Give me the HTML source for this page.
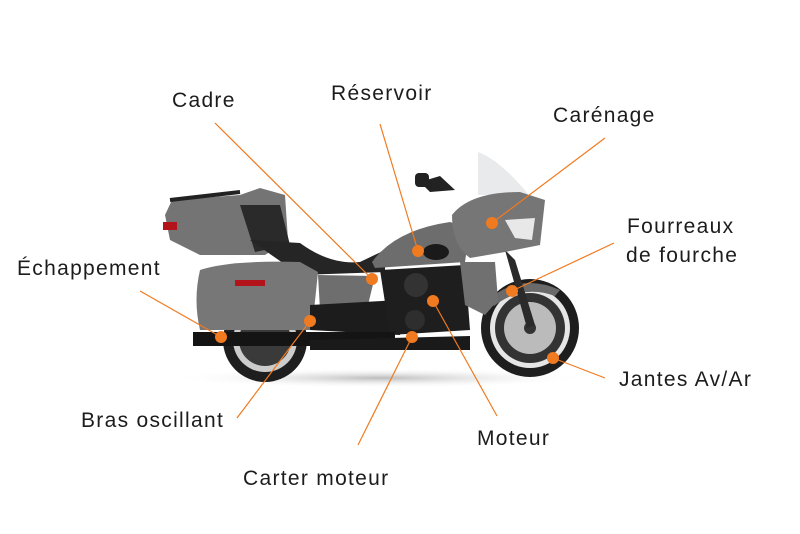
<!DOCTYPE html>
<html><head><meta charset="utf-8"><style>
html,body{margin:0;padding:0;background:#fff;}
svg{display:block}
text{font-family:"Liberation Sans","DejaVu Sans",sans-serif;font-size:21px;letter-spacing:1.3px;fill:#1c1c1c}
</style></head><body>
<svg width="800" height="534" viewBox="0 0 800 534" xmlns="http://www.w3.org/2000/svg">
<defs>
<radialGradient id="sh" cx="0.5" cy="0.5" r="0.5"><stop offset="0" stop-color="#bbb"/><stop offset="1" stop-color="#fff" stop-opacity="0"/></radialGradient>
</defs>
<ellipse cx="380" cy="378" rx="210" ry="10" fill="url(#sh)"/>
<!-- wheels -->
<circle cx="265" cy="340" r="42" fill="#1e1e1e"/>
<circle cx="265" cy="340" r="32" fill="#ccc"/>
<circle cx="265" cy="340" r="26" fill="#3a3a3a"/>
<circle cx="530" cy="328" r="49" fill="#1e1e1e"/>
<circle cx="530" cy="328" r="40" fill="#e6e6e6"/>
<circle cx="530" cy="328" r="35" fill="#333"/>
<circle cx="530" cy="328" r="26" fill="#bbb"/>
<circle cx="530" cy="328" r="6" fill="#333"/>
<!-- front fender -->
<path d="M488 300 Q520 272 560 290 L555 296 Q522 284 494 306Z" fill="#6a6a6a"/>
<!-- fork -->
<path d="M505 250 L515 260 L535 325 L527 328Z" fill="#2a2a2a"/>
<!-- windshield -->
<path d="M478 152 Q500 160 528 194 L478 195Z" fill="#e8eaec"/>
<!-- handlebar/mirror -->
<path d="M420 182 L440 176 L455 190 L430 192 Z" fill="#222"/>
<rect x="415" y="173" width="14" height="14" rx="4" fill="#222"/>
<!-- top case -->
<path d="M165 215 L172 200 L240 195 L260 188 L285 195 L288 240 L265 255 L200 255 L170 240Z" fill="#747474"/>
<path d="M170 200 L240 192" stroke="#222" stroke-width="4"/>
<path d="M240 205 L280 205 L290 245 L255 252Z" fill="#2a2a2a"/>
<rect x="163" y="222" width="14" height="8" fill="#b3131a"/>
<!-- seat -->
<path d="M250 240 L300 243 Q330 265 360 262 L385 250 L385 272 L300 275 Z" fill="#252525"/>
<!-- saddlebag -->
<path d="M200 270 Q230 260 300 262 L318 272 L312 330 L200 330 Q193 300 200 270Z" fill="#777"/>
<rect x="235" y="280" width="30" height="6" fill="#b3131a"/>
<!-- side cover / frame -->
<path d="M318 275 L375 276 L368 305 L320 310Z" fill="#6e6e6e"/>
<path d="M310 305 L400 300 L400 335 L310 330Z" fill="#1c1c1c"/>
<!-- tank -->
<path d="M372 262 Q395 230 450 222 L470 228 L465 262 L375 268Z" fill="#6d6d6d"/>
<ellipse cx="436" cy="252" rx="13" ry="8" fill="#1a1a1a"/>
<!-- engine -->
<path d="M380 270 L465 265 L470 330 L390 335Z" fill="#1e1e1e"/>
<circle cx="416" cy="285" r="12" fill="#333"/>
<circle cx="415" cy="320" r="10" fill="#2e2e2e"/>
<!-- lower fairing -->
<path d="M460 262 L495 262 L498 300 L485 315 L465 305Z" fill="#707070"/>
<!-- fairing -->
<path d="M452 215 Q470 192 520 192 L545 200 L540 245 L505 252 L470 258 Q452 245 452 215Z" fill="#767676"/>
<path d="M505 220 L535 218 L532 240 L515 238Z" fill="#e8e8e8"/>
<!-- exhaust -->
<path d="M193 332 L395 332 L395 346 L193 346Z" fill="#141414"/>
<path d="M310 340 L470 336 L470 350 L310 350Z" fill="#1a1a1a"/>
<!-- lines -->
<g stroke="#f07a20" stroke-width="1.2" fill="none">
<line x1="215" y1="123" x2="372" y2="279"/>
<line x1="380" y1="124" x2="418" y2="251"/>
<line x1="605" y1="138" x2="492" y2="223"/>
<line x1="614" y1="243" x2="512" y2="291"/>
<line x1="605" y1="378" x2="553" y2="358"/>
<line x1="497" y1="416" x2="433" y2="301"/>
<line x1="358" y1="445" x2="412" y2="337"/>
<line x1="237" y1="418" x2="310" y2="321"/>
<line x1="140" y1="291" x2="221" y2="337"/>
</g>
<g fill="#f07a20">
<circle cx="372" cy="279" r="6"/><circle cx="418" cy="251" r="6"/><circle cx="492" cy="223" r="6"/>
<circle cx="512" cy="291" r="6"/><circle cx="553" cy="358" r="6"/><circle cx="433" cy="301" r="6"/>
<circle cx="412" cy="337" r="6"/><circle cx="310" cy="321" r="6"/><circle cx="221" cy="337" r="6"/>
</g>
<text x="172" y="107">Cadre</text>
<text x="331" y="100">Réservoir</text>
<text x="553" y="122">Carénage</text>
<text x="627" y="233">Fourreaux</text>
<text x="626" y="262">de fourche</text>
<text x="17" y="275">Échappement</text>
<text x="619" y="386">Jantes Av/Ar</text>
<text x="81" y="427">Bras oscillant</text>
<text x="477" y="445">Moteur</text>
<text x="243" y="485">Carter moteur</text>
</svg>
</body></html>
